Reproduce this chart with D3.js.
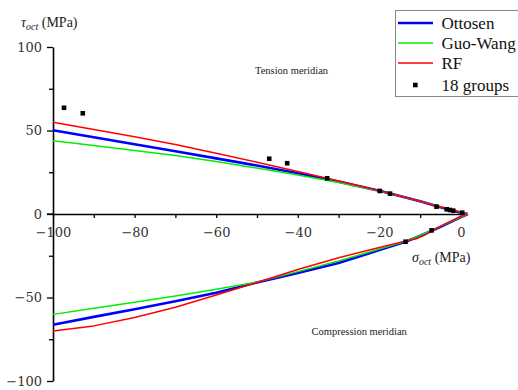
<!DOCTYPE html>
<html><head><meta charset="utf-8">
<script src="https://cdn.jsdelivr.net/npm/d3@7"></script>
<style>body{margin:0;background:#fff}svg{display:block}text{font-family:"Liberation Serif","Times New Roman",serif}</style>
</head><body><div id="chart"></div>
<script>
// tension meridian (x = sigma_oct, y = tau_oct)
const tensionX = [-100,-90,-80,-70,-60,-50,-40,-30,-20,-10,-5,0,1.7];
const ottosenT = [50.1,46,41.8,37.6,33.3,29,24.4,19.4,13.9,7.6,4.1,0.8,0];
const guoWangT = [43.9,41.0,38.0,35.0,31.5,27.5,23.3,18.8,13.8,7.7,4.3,1.1,0];
const rfTX     = [-100,-90,-80,-70,-60,-50,-40,-30,-20,-10,-5,0,1.5];
const rfT      = [54.9,50.6,46.2,41.6,36.4,31.0,25.5,19.8,13.9,7.6,4.2,1.0,0];
// compression meridian
const compX    = [-100,-90,-80,-70,-60,-50,-40,-30,-20,-13.6,-10,-5,0,1.7];
const ottosenC = [-66.3,-61.6,-57,-52.3,-47.2,-41,-35.3,-29.4,-21.6,-16.6,-13,-7.7,-1.8,0];
const guoWangC = [-60.1,-56.5,-52.8,-49.1,-45.1,-40.8,-34.5,-28.2,-21,-16.3,-12.8,-7.4,-1.8,0];
const rfCX     = [-100,-90,-80,-70,-60,-50,-40,-30,-22,-14,-11,-9,-7,-5,0,1.5];
const rfC      = [-70,-67,-62,-55.8,-48.5,-41,-33.2,-26.2,-21.2,-16.4,-14.8,-12.8,-10,-7.3,-1.5,0];
// experimental data: 18 groups
const expX = [-97.3,-92.7,-47.0,-42.6,-32.8,-19.9,-17.4,-6.0,-3.5,-2.7,-1.9,0.3,-13.6,-7.2];
const expY = [63.6,60.3,33.1,30.4,21.4,13.8,12.2,4.4,2.8,2.4,2.0,0.8,-16.6,-9.8];
const xTicks = [-100,-80,-60,-40,-20,0];
const xMinor = [-90,-70,-50,-30,-10];
const yTicks = [-100,-50,0,50,100];
const yMinor = [-75,-25,25,75];
const seriesNames = ["Ottosen","Guo-Wang","RF","18 groups"];
const seriesColors = ["#0000ff","#00ee00","#ff0000","#000000"];

const W=518,H=390;
const svg=d3.select("#chart").append("svg").attr("width",W).attr("height",H);
const x=d3.scaleLinear().domain([-100,1.5]).range([53,467.1]);
const y=d3.scaleLinear().domain([-100,100]).range([381,47]);
const fmt=d => d<0 ? "\u2212"+Math.abs(d) : String(d);
const tickFont="'DejaVu Serif','Liberation Serif',serif";

// axes
svg.append("g").attr("transform",`translate(${x(-100)},0)`)
  .call(d3.axisLeft(y).tickValues(yTicks).tickSize(6).tickSizeOuter(0).tickPadding(5).tickFormat(fmt))
  .attr("font-family",tickFont).attr("font-size",13);
svg.append("g").attr("transform",`translate(${x(-100)},0)`)
  .call(d3.axisLeft(y).tickValues(yMinor).tickSize(4).tickSizeOuter(0).tickFormat(""))
  .select(".domain").remove();
svg.append("g").attr("transform",`translate(0,${y(0)})`)
  .call(d3.axisBottom(x).tickValues(xTicks).tickSize(4).tickSizeOuter(0).tickPadding(10).tickFormat(fmt))
  .attr("font-family",tickFont).attr("font-size",13);
svg.append("g").attr("transform",`translate(0,${y(0)})`)
  .call(d3.axisBottom(x).tickValues(xMinor).tickSize(4).tickSizeOuter(0).tickFormat(""))
  .select(".domain").remove();
svg.selectAll(".domain").attr("stroke","#000").attr("stroke-width",1.6);
svg.selectAll(".tick line").attr("stroke","#000").attr("stroke-width",1.3);
svg.selectAll(".tick text").attr("fill","#333").style("font-family",tickFont).style("font-size","13px");
svg.append("line").attr("x1",x(-100)-6).attr("x2",x(-100)).attr("y1",y(0)).attr("y2",y(0)).attr("stroke","#000").attr("stroke-width",1.3);

const line=d3.line().x(d=>x(d[0])).y(d=>y(d[1]));
function draw(xs,ys,color,w){
  svg.append("path").datum(xs.map((v,i)=>[v,ys[i]])).attr("d",line)
    .attr("fill","none").attr("stroke",color).attr("stroke-width",w).attr("stroke-linejoin","round");
}
draw(tensionX,ottosenT,seriesColors[0],2.6);
draw(compX,ottosenC,seriesColors[0],2.6);
draw(tensionX,guoWangT,seriesColors[1],1.5);
draw(compX,guoWangC,seriesColors[1],1.5);
draw(rfTX,rfT,seriesColors[2],1.5);
draw(rfCX,rfC,seriesColors[2],1.5);

svg.append("g").selectAll("rect").data(expX.map((v,i)=>[v,expY[i]])).join("rect")
  .attr("x",d=>x(d[0])-2.3).attr("y",d=>y(d[1])-2.3).attr("width",4.6).attr("height",4.6).attr("fill","#000");

// axis titles
const yt=svg.append("text").attr("x",21).attr("y",27).attr("font-size",14).attr("fill","#222");
yt.append("tspan").attr("font-style","italic").text("\u03c4");
yt.append("tspan").attr("font-style","italic").attr("font-size",10).attr("dy",3).text("oct");
yt.append("tspan").attr("dy",-3).text(" (MPa)");
const xt=svg.append("text").attr("x",412).attr("y",262).attr("font-size",14).attr("fill","#222");
xt.append("tspan").attr("font-style","italic").text("\u03c3");
xt.append("tspan").attr("font-style","italic").attr("font-size",10).attr("dy",3).text("oct");
xt.append("tspan").attr("dy",-3).text(" (MPa)");

svg.append("text").attr("x",255).attr("y",73.5).attr("font-size",10.5).attr("fill","#222").text("Tension meridian");
svg.append("text").attr("x",311.5).attr("y",335).attr("font-size",10.5).attr("fill","#222").text("Compression meridian");

// legend
const lg=svg.append("g");
lg.append("rect").attr("x",395.5).attr("y",10.5).attr("width",140).attr("height",86).attr("fill","#fff").attr("stroke","#888").attr("stroke-width",1);
const ly=[23,43,63,85];
seriesNames.forEach((n,i)=>{
  if(i<3) lg.append("line").attr("x1",398).attr("x2",433).attr("y1",ly[i]).attr("y2",ly[i]).attr("stroke",seriesColors[i]).attr("stroke-width",i===0?2.6:1.5);
  else lg.append("rect").attr("x",413).attr("y",ly[i]-2.3).attr("width",4.6).attr("height",4.6).attr("fill","#000");
  lg.append("text").attr("x",441.5).attr("y",ly[i]+5.5).attr("font-size",17).attr("fill","#111").text(n);
});
</script></body></html>
